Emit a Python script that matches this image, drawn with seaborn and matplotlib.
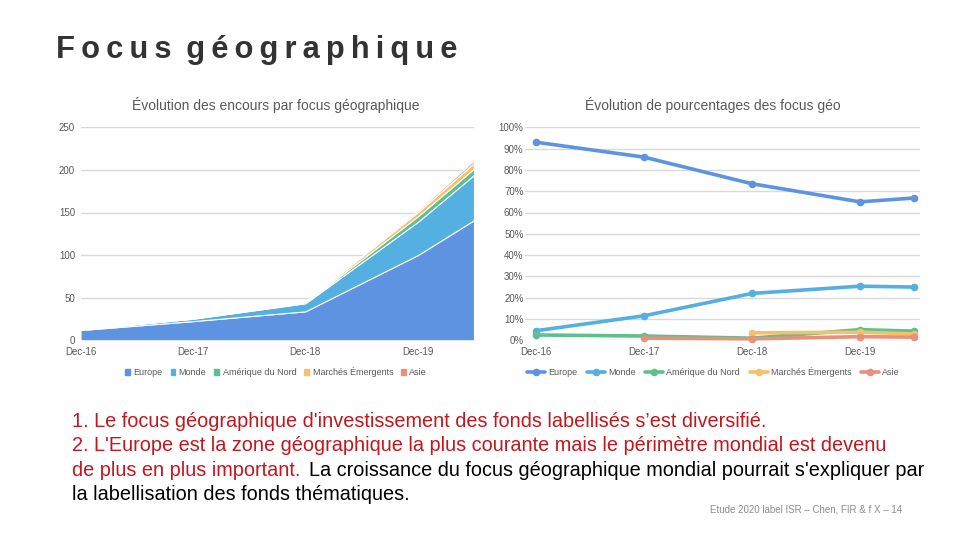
"""Focus géographique : encours empilés et parts en pourcentage."""

import numpy as np
import pandas as pd
import matplotlib
matplotlib.use("Agg")
import matplotlib.pyplot as plt
from matplotlib.patches import Patch
import seaborn as sns

# Données
positions = [0, 1, 2, 3, 3.5]
ticks_x = [0, 1, 2, 3]
labels_x = ["Dec-16", "Dec-17", "Dec-18", "Dec-19"]
focus = ["Europe", "Monde", "Amérique du Nord", "Marchés Émergents", "Asie"]

encours_europe = [12, 22.5, 34, 100, 141]
encours_monde = [0.7, 2.8, 9.5, 39, 53]
encours_amerique = [0.3, 0.4, 0.6, 6.5, 7.5]
encours_emergents = [0, 0, 1.2, 5, 6.5]
encours_asie = [0.2, 0.4, 0.7, 2, 3]

pct_europe = [93, 86, 73.5, 65, 66.8]
pct_monde = [4.5, 11.5, 22, 25.4, 25]
pct_amerique = [2.5, 2, 1, 5, 4.3]
pct_emergents = [np.nan, np.nan, 3.5, 3.8, 3]
pct_asie = [np.nan, 1, 0.7, 1.7, 1.5]

couleurs = ["#5e93e2", "#54b0e0", "#5dc08f", "#f5bf6c", "#e8907a"]
gris = "#595959"

sns.set_theme(style="whitegrid")
plt.rcParams["font.family"] = ["Liberation Sans", "DejaVu Sans"]
plt.rcParams.update({
    "grid.color": "#d9d9d9",
    "grid.linewidth": 1.0,
    "xtick.labelsize": 7,
    "ytick.labelsize": 7,
    "xtick.color": gris,
    "ytick.color": gris,
    "legend.fontsize": 6.5,
})

L, H = 960, 540


def axes_px(fig, x0, x1, y_haut, y_bas):
    """Crée un axe à partir de coordonnées en pixels."""
    return fig.add_axes([x0 / L, 1 - y_bas / H, (x1 - x0) / L, (y_bas - y_haut) / H])


def texte(fig, x, y, s, **kw):
    return fig.text(x / L, 1 - y / H, s, **kw)


fig = plt.figure(figsize=(9.6, 5.4), dpi=100)

# Graphique de gauche : aires empilées
ax1 = axes_px(fig, 80.5, 474, 127.3, 340.3)
ax1.stackplot(
    positions,
    encours_europe, encours_monde, encours_amerique, encours_emergents, encours_asie,
    colors=couleurs, edgecolor="white", linewidth=0.8,
)
ax1.set_xlim(0, 3.5)
ax1.set_ylim(0, 250)
ax1.set_yticks([0, 50, 100, 150, 200, 250])
ax1.set_xticks(ticks_x, labels_x)
ax1.grid(axis="x", visible=False)
sns.despine(ax=ax1, left=True, bottom=True, right=True, top=True)
ax1.tick_params(axis="both", length=0, pad=5)
ax1.tick_params(axis="y", pad=4)
poignees = [Patch(color=c, label=f) for c, f in zip(couleurs, focus)]
ax1.legend(
    handles=poignees, loc="center", bbox_to_anchor=(0.497, -0.15), ncol=5, frameon=False,
    handlelength=0.5, handleheight=0.5, handletextpad=0.4, columnspacing=0.9, labelcolor=gris,
)

# Graphique de droite : courbes en pourcentage
df = pd.DataFrame({
    "position": positions * 5,
    "valeur": pct_europe + pct_monde + pct_amerique + pct_emergents + pct_asie,
    "focus": np.repeat(focus, 5),
})
ax2 = axes_px(fig, 525, 920, 127.3, 340.3)
sns.lineplot(
    data=df, x="position", y="valeur", hue="focus", hue_order=focus, palette=couleurs,
    marker="o", markersize=5.5, markeredgewidth=0, linewidth=2.6, errorbar=None, ax=ax2,
)
ax2.set_xlim(-0.102, 3.556)
ax2.set_ylim(0, 100)
ax2.set_yticks(range(0, 101, 10))
ax2.set_yticklabels([f"{v}%" for v in range(0, 101, 10)])
ax2.set_xticks(ticks_x, labels_x)
ax2.set_xlabel("")
ax2.set_ylabel("")
ax2.grid(axis="x", visible=False)
for ligne in ax2.get_lines():
    ligne.set_clip_on(False)
sns.despine(ax=ax2, left=True, bottom=True, right=True, top=True)
ax2.tick_params(axis="both", length=0, pad=5)
ax2.tick_params(axis="y", pad=1)
ax2.legend(
    loc="center", bbox_to_anchor=(0.477, -0.15), ncol=5, frameon=False, title=None,
    handlelength=2.0, handletextpad=0.3, columnspacing=1.1, labelcolor=gris,
)

# Titres
texte(fig, 56, 50, "F\u2009o\u2009c\u2009u\u2009s\u2009 g\u2009é\u2009o\u2009g\u2009r\u2009a\u2009p\u2009h\u2009i\u2009q\u2009u\u2009e",
      fontsize=22.2, fontweight="bold", color="#333333", va="center")
texte(fig, 276, 105, "Évolution des encours par focus géographique",
      fontsize=10, color=gris, ha="center", va="center")
texte(fig, 713, 105, "Évolution de pourcentages des focus géo",
      fontsize=10, color=gris, ha="center", va="center")

# Commentaires
rouge = "#c5161d"
texte(fig, 72, 427, "1. Le focus géographique d'investissement des fonds labellisés s’est diversifié.",
      fontsize=14.35, color=rouge)
texte(fig, 72, 451, "2. L'Europe est la zone géographique la plus courante mais le périmètre mondial est devenu",
      fontsize=14.35, color=rouge)
texte(fig, 72, 476, "de plus en plus important.", fontsize=14.35, color=rouge)
texte(fig, 309, 476, "La croissance du focus géographique mondial pourrait s'expliquer par",
      fontsize=14.35, color="black")
texte(fig, 72, 500, "la labellisation des fonds thématiques.", fontsize=14.35, color="black")
texte(fig, 710, 513, "Etude 2020 label ISR – Chen, FIR & f X – 14", fontsize=7, color="#8c8c8c")

fig.savefig("out.png", dpi=100)
